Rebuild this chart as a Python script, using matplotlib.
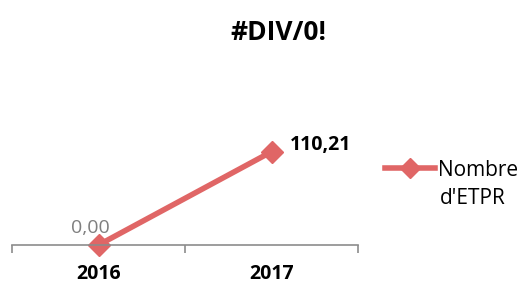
import matplotlib.pyplot as plt
from matplotlib.lines import Line2D

years = ['2016', '2017']
values = [0.00, 110.21]
labels = ['0,00', '110,21']
series_name = ['Nombre', "d'ETPR"]
title = '#DIV/0!'

plt.rcParams['font.family'] = ['Open Sans', 'DejaVu Sans']
color = '#E06666'

fig = plt.figure(figsize=(5.29, 2.83), dpi=100)
ax = fig.add_axes([12 / 529, 1 - 245 / 283, 346 / 529, 165 / 283])

x = list(range(len(years)))
ax.plot(x, values, color=color, lw=4, marker='D', ms=11, clip_on=False)
ax.set_xlim(-0.5, len(years) - 0.5)
ax.set_ylim(0, 195)

for s in ['top', 'right', 'left']:
    ax.spines[s].set_visible(False)
ax.spines['bottom'].set_color('#8c8c8c')
ax.spines['bottom'].set_linewidth(1.2)
ax.set_yticks([])
ax.set_xticks(x)
ax.set_xticklabels(years, fontsize=14, fontweight='bold')
ax.tick_params(axis='x', which='major', length=0, pad=14)
ax.set_xticks([-0.5, 0.5, 1.5], minor=True)
ax.tick_params(axis='x', which='minor', length=6, width=1.2, color='#8c8c8c', direction='out')

ax.annotate(labels[0], (x[0], values[0]), xytext=(-6, 6), textcoords='offset points',
            ha='center', va='bottom', fontsize=14, color='#7f7f7f')
ax.annotate(labels[1], (x[1], values[1]), xytext=(13, 5), textcoords='offset points',
            ha='left', va='center', fontsize=14, fontweight='bold', color='black')

fig.text(278 / 529, 1 - 33 / 283, title, ha='center', va='center', fontsize=19, fontweight='bold')

# legend: handle sits on the first line of the two-line label
handle = Line2D([], [], color=color, lw=4, marker='D', ms=10)
fig.legend([handle], [series_name[0]], loc='center left', bbox_to_anchor=(385 / 529, 1 - 170 / 283),
           frameon=False, fontsize=15, handlelength=2.4, handletextpad=0.15, borderpad=0,
           borderaxespad=0)
fig.text(440 / 529, 1 - 199 / 283, series_name[1], ha='left', va='center', fontsize=15)

fig.savefig('out.png', dpi=100)
